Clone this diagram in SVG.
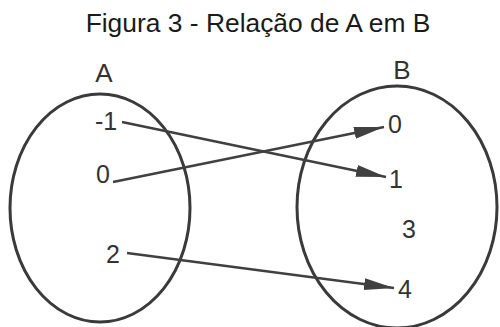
<svg xmlns="http://www.w3.org/2000/svg" width="500" height="327" viewBox="0 0 500 327">
<style>
text{font-family:"Liberation Sans",Arial,sans-serif;fill:#333;}
.t{font-size:26.4px;fill:#1a1a1a;}
.l{font-size:26px;text-anchor:middle;}
.n{font-size:25px;text-anchor:middle;}
.set{fill:none;stroke:#3a3a3a;stroke-width:3;}
.c{stroke:#404040;stroke-width:2.5;fill:none;marker-end:url(#ah);}
</style>
<defs>
<marker id="ah" markerWidth="30" markerHeight="12" refX="30" refY="6" orient="auto" markerUnits="userSpaceOnUse">
<path d="M0,0 L30,6 L0,12 Z" fill="#404040"/>
</marker>
</defs>
<rect width="500" height="327" fill="#fff"/>
<text class="t" x="258" y="32" text-anchor="middle">Figura 3 - Relação de A em B</text>
<g id="setA">
<ellipse class="set" cx="100" cy="208" rx="90" ry="114"/>
<text class="l" x="104" y="82">A</text>
</g>
<g id="setB">
<ellipse class="set" cx="397" cy="207" rx="100" ry="121"/>
<text class="l" x="402" y="79">B</text>
</g>
<g id="a-1"><text class="n" x="106" y="130">-1</text></g>
<g id="a0"><text class="n" x="103" y="183">0</text></g>
<g id="a2"><text class="n" x="113" y="263">2</text></g>
<g id="b0"><text class="n" x="395" y="133">0</text></g>
<g id="b1"><text class="n" x="396" y="188">1</text></g>
<g id="b3"><text class="n" x="409" y="238">3</text></g>
<g id="b4"><text class="n" x="405" y="298">4</text></g>
<g id="connectors">
<line class="c" x1="122" y1="122" x2="386" y2="177"/>
<line class="c" x1="113" y1="182" x2="384" y2="127"/>
<line class="c" x1="127" y1="253" x2="394" y2="288"/>
</g>
</svg>
